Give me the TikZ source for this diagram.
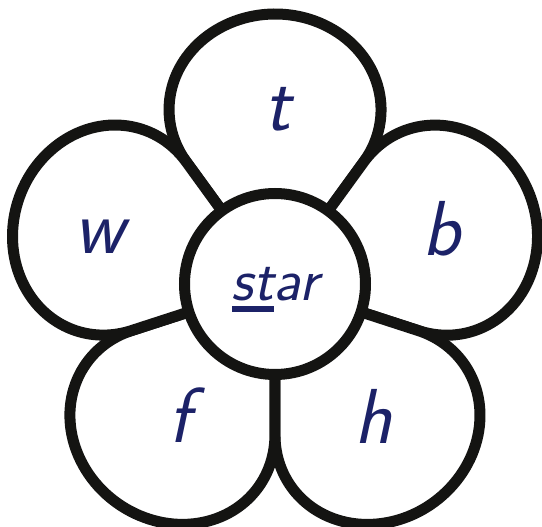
\documentclass[tikz,border=0pt]{standalone}
\definecolor{ink}{RGB}{28,34,104}
\definecolor{outline}{RGB}{20,20,18}
\tikzset{
  petal/.style={
    draw=outline,
    line width=11pt,
    fill=white,
    line join=round
  },
  hubdisc/.style={
    circle,
    draw=outline,
    line width=11pt,
    fill=white,
    minimum size=181pt,
    inner sep=0pt
  },
  letter/.style={
    text=ink,
    anchor=base,
    font=\fontsize{78}{78}\selectfont\sffamily\slshape
  },
  word/.style={
    letter,
    font=\fontsize{60}{60}\selectfont\sffamily\slshape
  }
}
% thick bar under the blend
\newcommand{\blendbar}[1]{\setbox0=\hbox{#1}\rlap{\rule[-11pt]{\wd0}{6pt}}\box0}

\begin{document}
\begin{tikzpicture}[x=1pt,y=1pt]
  \useasboundingbox (-275,-243) rectangle (267,284);

  % five petals, tip at the middle
  \foreach \dir in {90,18,-54,-126,162} {
    \draw[petal, rotate=\dir-90] (0,0) -- (88.7,122.0)
      arc[start angle=-33.24, end angle=213.24, x radius=106, y radius=95.6] -- cycle;
  }

  \node[hubdisc] (hub) at (0,0) {};
  \node[word] (stem) at (0,-17) {\blendbar{st}ar};

  \node[letter] (lt) at (3,153) {t};
  \node[letter] (lb) at (166,28) {b};
  \node[letter] (lw) at (-175,30) {w};
  \node[letter] (lf) at (-95,-159) {f};
  \node[letter] (lh) at (98,-160) {h};
\end{tikzpicture}
\end{document}
